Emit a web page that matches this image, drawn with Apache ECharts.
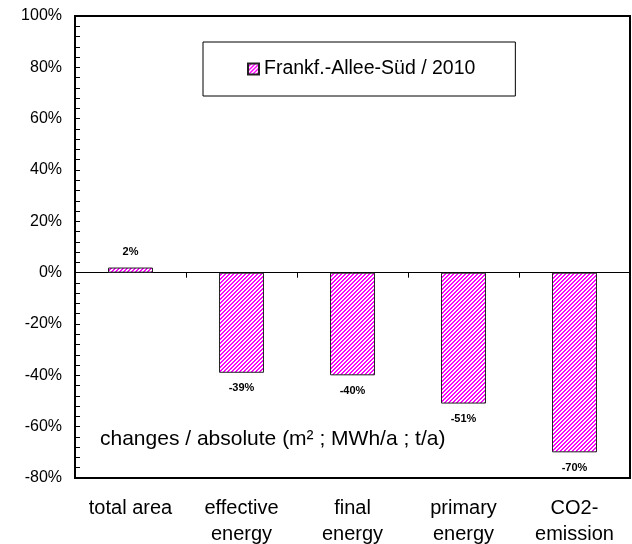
<!DOCTYPE html>
<html>
<head>
<meta charset="utf-8">
<script src="https://cdn.jsdelivr.net/npm/echarts@6/dist/echarts.min.js"></script>
<style>html,body{margin:0;padding:0;background:#fff}#c{width:632px;height:544px}</style>
</head>
<body>
<div id="c"></div>
<script>
const categories = ['total area', 'effective\nenergy', 'final\nenergy', 'primary\nenergy', 'CO2-\nemission'];
const seriesName = 'Frankf.-Allee-Süd / 2010';
const values = [2, -39, -40, -51, -70];
const yTicks = { min: -80, max: 100, interval: 20 };
const annotation = 'changes / absolute (m² ; MWh/a ; t/a)';

function hatch() {
  const c = document.createElement('canvas');
  c.width = 4; c.height = 4;
  const ctx = c.getContext('2d');
  const img = ctx.createImageData(4, 4);
  for (let y = 0; y < 4; y++) for (let x = 0; x < 4; x++) {
    const i = (y * 4 + x) * 4;
    const white = ((x + y) % 4) < 2;
    img.data[i] = 255; img.data[i + 1] = white ? 255 : 0; img.data[i + 2] = 255; img.data[i + 3] = 255;
  }
  ctx.putImageData(img, 0, 0);
  return c;
}
const pattern = { image: hatch(), repeat: 'repeat' };
const FONT = 'Arial, "Liberation Sans", sans-serif';

const chart = echarts.init(document.getElementById('c'), null, { renderer: 'canvas' });
chart.setOption({
  animation: false,
  textStyle: { fontFamily: FONT, color: '#000' },
  grid: { left: 75, right: 2, top: 16, bottom: 66, show: true, borderColor: '#000', borderWidth: 2,
          containLabel: false, outerBoundsMode: 'none' },
  legend: {
    left: 203, top: 42, padding: [17, 40, 17, 44],
    borderColor: '#000', borderWidth: 1,
    itemWidth: 11, itemHeight: 11, itemGap: 4,
    textStyle: { fontSize: 19.5, color: '#000', fontFamily: FONT },
    data: [{ name: seriesName, icon: 'rect' }]
  },
  xAxis: [
    { type: 'category', data: categories, position: 'bottom',
      axisLine: { onZero: true, lineStyle: { color: '#000', width: 1 } },
      axisTick: { show: true, length: 5, lineStyle: { color: '#000' } },
      axisLabel: { show: false }, splitLine: { show: false } },
    { type: 'category', data: categories, position: 'bottom',
      axisLine: { show: false, onZero: false }, axisTick: { show: false },
      axisLabel: { fontSize: 20, color: '#000', fontFamily: FONT, lineHeight: 26, margin: 17, interval: 0 } }
  ],
  yAxis: {
    type: 'value', min: yTicks.min, max: yTicks.max, interval: yTicks.interval,
    axisLine: { show: true, lineStyle: { color: '#000', width: 2 } },
    axisTick: { show: true, inside: true, length: 5, lineStyle: { color: '#000' } },
    minorTick: { show: true, splitNumber: 5, length: 5, lineStyle: { color: '#000' } },
    splitLine: { show: false },
    axisLabel: { formatter: '{value}%', fontSize: 16, color: '#000', fontFamily: FONT, margin: 13 }
  },
  series: [{
    name: seriesName, type: 'bar', xAxisIndex: 0, barWidth: '40.5%',
    itemStyle: { color: pattern, borderColor: '#222', borderWidth: 1 },
    label: { show: true, formatter: p => p.value + '%', fontSize: 11, fontWeight: 'bold', color: '#000', fontFamily: FONT, distance: 10 },
    data: values.map(v => ({ value: v, label: { position: v < 0 ? 'bottom' : 'top' } }))
  }],
  graphic: [{ type: 'text', left: 100, top: 429, style: { text: annotation, fontSize: 21, fill: '#000', fontFamily: FONT } }]
});
</script>
</body>
</html>
